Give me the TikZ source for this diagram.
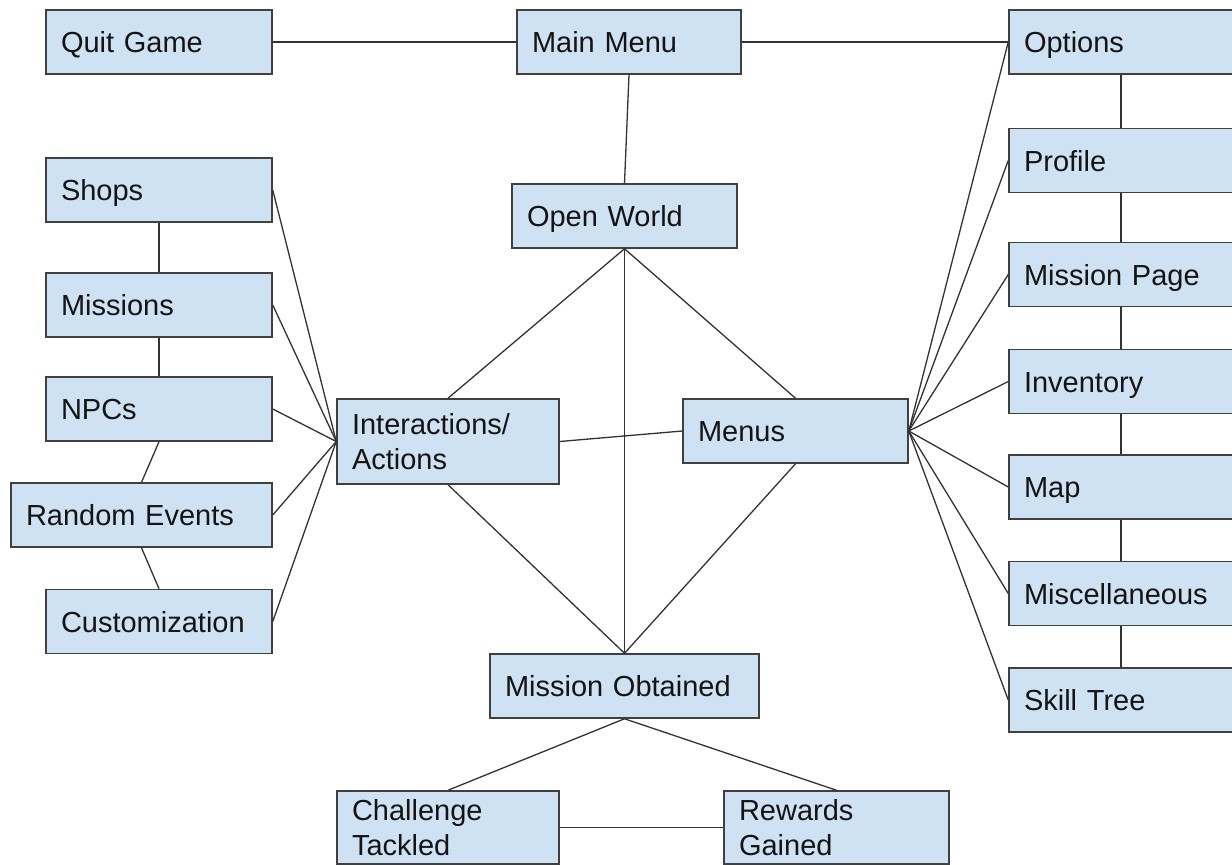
\documentclass[tikz,border=0pt]{standalone}
\usepackage{fontspec}
\setmainfont{Liberation Sans}
\definecolor{boxfill}{HTML}{CFE2F3}
\definecolor{boxline}{HTML}{404040}
\definecolor{edgeline}{HTML}{333333}
\definecolor{txt}{HTML}{141414}
\begin{document}
\begin{tikzpicture}[x=1pt,y=-1pt,
  box/.style={draw=boxline,fill=boxfill,line width=1.5pt,rectangle,
    inner xsep=15pt,inner ysep=0pt,align=left,text=txt,
    font=\fontsize{29}{35}\selectfont,text height=21pt,text depth=0pt},
  twoline/.style={text height=21pt,text depth=35pt},
  conn/.style={draw=edgeline,line width=1.3pt}]
\useasboundingbox (0,0) rectangle (1232,865);
% nodes: name, centre x, centre y, width, height, text (extra options)
\newcommand{\bx}[7][]{\node[box,minimum width=#5pt,minimum height=#6pt,text width=#5pt-30pt,#1] (#2) at (#3,#4) {#7};}
\bx{quit}{159}{42}{226}{64}{Quit Game}
\bx{main}{629}{42}{224}{64}{Main Menu}
\bx{options}{1121}{42}{224}{64}{Options}
\bx{shops}{159}{190}{226}{64}{Shops}
\bx{missions}{159}{305}{226}{64}{Missions}
\bx{npcs}{159}{409}{226}{64}{NPCs}
\bx{random}{141.5}{515}{261}{64}{Random Events}
\bx{cust}{159}{621.5}{226}{64}{Customization}
\bx{open}{624.5}{216}{225}{64}{Open World}
\bx[twoline]{inter}{448}{441.5}{222}{85}{Interactions/\\Actions}
\bx{menus}{795.5}{431}{225}{64}{Menus}
\bx{mobt}{624.5}{686}{269}{64}{Mission Obtained}
\bx[twoline]{chal}{448}{827.5}{222}{73}{Challenge\\Tackled}
\bx[twoline]{rew}{836.5}{827.5}{225}{73}{Rewards\\Gained}
\bx{profile}{1121}{160.5}{224}{64}{Profile}
\bx{mpage}{1121}{274.5}{224}{64}{Mission Page}
\bx{inv}{1121}{381.5}{224}{64}{Inventory}
\bx{map}{1121}{487}{224}{64}{Map}
\bx{misc}{1121}{593.5}{224}{64}{Miscellaneous}
\bx{skill}{1121}{700}{224}{64}{Skill Tree}
% connectors
\path[conn] (quit.east) -- (main.west);
\path[conn] (main.east) -- (options.west);
\path[conn] (main.south) -- (open.north);
\path[conn] (shops.south) -- (missions.north);
\path[conn] (missions.south) -- (npcs.north);
\path[conn] (npcs.south) -- (random.north);
\path[conn] (random.south) -- (cust.north);
\foreach \n in {shops,missions,npcs,random,cust}
  \path[conn] (\n.east) -- (inter.west);
\path[conn] (open.south) -- (inter.north);
\path[conn] (open.south) -- (menus.north);
\path[conn] (open.south) -- (mobt.north);
\path[conn] (inter.south) -- (mobt.north);
\path[conn] (menus.south) -- (mobt.north);
\path[conn] (inter.east) -- (menus.west);
\foreach \n in {options,profile,mpage,inv,map,misc,skill}
  \path[conn] (menus.east) -- (\n.west);
\path[conn] (options.south) -- (profile.north);
\path[conn] (profile.south) -- (mpage.north);
\path[conn] (mpage.south) -- (inv.north);
\path[conn] (inv.south) -- (map.north);
\path[conn] (map.south) -- (misc.north);
\path[conn] (misc.south) -- (skill.north);
\path[conn] (mobt.south) -- (chal.north);
\path[conn] (mobt.south) -- (rew.north);
\path[conn] (chal.east) -- (rew.west);
\end{tikzpicture}
\end{document}
